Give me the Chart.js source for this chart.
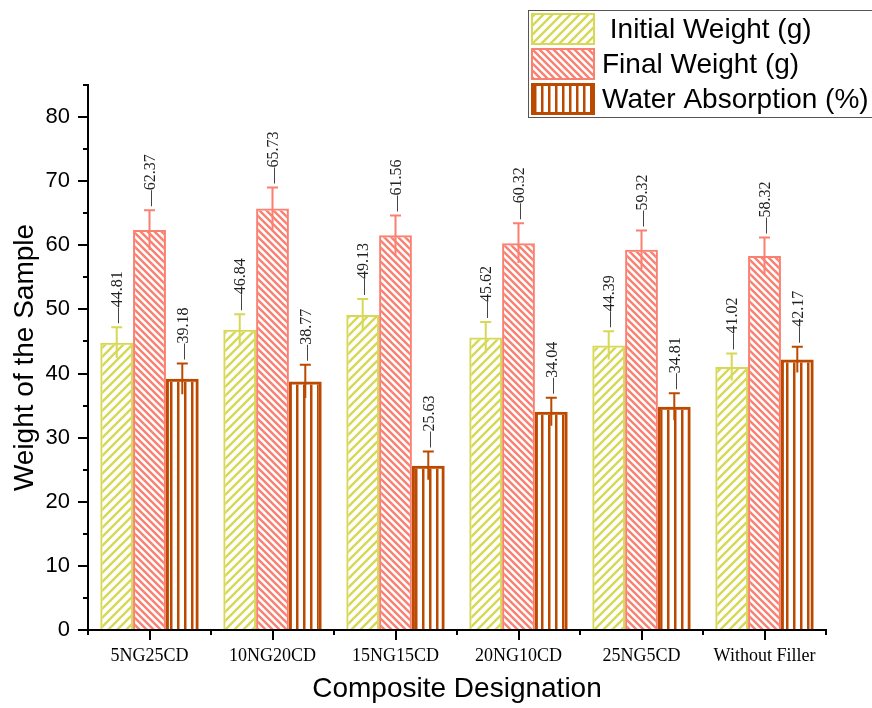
<!DOCTYPE html>
<html>
<head>
<meta charset="utf-8">
<script src="https://cdn.jsdelivr.net/npm/chart.js@4.4.1/dist/chart.umd.min.js"></script>
<style>
  html, body { margin: 0; padding: 0; background: #fff; }
  #wrap { width: 872px; height: 708px; }
</style>
</head>
<body>
<div id="wrap"><canvas id="myChart" width="872" height="708"></canvas></div>
<script>
// data
const categories = ['5NG25CD', '10NG20CD', '15NG15CD', '20NG10CD', '25NG5CD', 'Without Filler'];
const initialWeight = [44.81, 46.84, 49.13, 45.62, 44.39, 41.02];
const finalWeight = [62.37, 65.73, 61.56, 60.32, 59.32, 58.32];
const waterAbsorption = [39.18, 38.77, 25.63, 34.04, 34.81, 42.17];
const initialErr = [2.4, 2.4, 2.5, 2.4, 2.2, 2.1];
const finalErr = [3.1, 3.3, 3.1, 3.1, 3.0, 2.9];
const absorptionErr = [2.4, 2.6, 2.2, 2.2, 2.1, 2.0];
const seriesNames = [' Initial Weight (g)', 'Final Weight (g)', 'Water Absorption (%)'];
const yTicks = [0, 10, 20, 30, 40, 50, 60, 70, 80];

const colYellow = '#d6d856';
const colSalmon = '#fa8072';
const colBrown = '#bb4a00';

// hatch fills
function makePattern(kind, color, size) {
    const c = document.createElement('canvas');
    c.width = size;
    c.height = size;
    const g = c.getContext('2d');
    g.strokeStyle = color;
    g.fillStyle = color;
    g.lineWidth = 2.4;
    if (kind === 'vertical') {
        g.fillRect(2, 0, 2.5, size);
    } else {
        g.beginPath();
        if (kind === 'up') {
            g.moveTo(-1, size + 1); g.lineTo(size + 1, -1);
            g.moveTo(-1, 1); g.lineTo(1, -1);
            g.moveTo(size - 1, size + 1); g.lineTo(size + 1, size - 1);
        } else {
            g.moveTo(-1, -1); g.lineTo(size + 1, size + 1);
            g.moveTo(-1, size - 1); g.lineTo(1, size + 1);
            g.moveTo(size - 1, -1); g.lineTo(size + 1, 1);
        }
        g.stroke();
    }
    return document.getElementById('myChart').getContext('2d').createPattern(c, 'repeat');
}

const patYellow = makePattern('up', colYellow, 9);
const patSalmon = makePattern('down', colSalmon, 7);
const patBrown = makePattern('vertical', colBrown, 7);

const errors = [initialErr, finalErr, absorptionErr];

// error bars + rotated value labels
const errorBarPlugin = {
    id: 'errorBars',
    afterDatasetsDraw(chart) {
        const ctx = chart.ctx;
        const y = chart.scales.y;
        chart.data.datasets.forEach((ds, i) => {
            const meta = chart.getDatasetMeta(i);
            meta.data.forEach((bar, j) => {
                const v = ds.data[j];
                const e = errors[i][j];
                const yTop = y.getPixelForValue(v + e);
                const yBot = y.getPixelForValue(v - e);
                ctx.save();
                ctx.strokeStyle = ds.borderColor;
                ctx.lineWidth = 2;
                ctx.beginPath();
                ctx.moveTo(bar.x, yTop); ctx.lineTo(bar.x, yBot);
                ctx.moveTo(bar.x - 5.5, yTop); ctx.lineTo(bar.x + 5.5, yTop);
                ctx.stroke();
                ctx.translate(bar.x, yTop - 4);
                ctx.rotate(-Math.PI / 2);
                ctx.fillStyle = '#222';
                ctx.font = '16px "Liberation Serif"';
                ctx.textAlign = 'left';
                ctx.textBaseline = 'middle';
                ctx.fillText('\u2014' + v.toFixed(2), 0, 1);
                ctx.restore();
            });
        });
    }
};

// minor ticks + legend box
const extrasPlugin = {
    id: 'extras',
    afterDraw(chart) {
        const ctx = chart.ctx;
        const x = chart.scales.x;
        const y = chart.scales.y;
        ctx.save();
        ctx.strokeStyle = '#000';
        ctx.lineWidth = 2;
        ctx.beginPath();
        for (let v = 5; v <= 85; v += 10) {
            const py = Math.round(y.getPixelForValue(v));
            ctx.moveTo(y.right, py); ctx.lineTo(y.right - 5, py);
        }
        const step = x.width / categories.length;
        for (let k = 0; k <= categories.length; k++) {
            const px = Math.round(x.left + k * step);
            ctx.moveTo(px, x.top); ctx.lineTo(px, x.top + 5);
        }
        ctx.stroke();

        // legend
        ctx.fillStyle = '#fff';
        ctx.fillRect(528.5, 10.5, 350, 107);
        ctx.strokeStyle = '#555';
        ctx.lineWidth = 1;
        ctx.strokeRect(528.5, 10.5, 350, 107);
        const rows = [13, 48, 83];
        chart.data.datasets.forEach((ds, i) => {
            const top = rows[i];
            ctx.fillStyle = ds.backgroundColor;
            ctx.fillRect(531, top, 64, 32);
            ctx.strokeStyle = ds.borderColor;
            ctx.lineWidth = ds.borderWidth;
            ctx.strokeRect(531 + ds.borderWidth / 2, top + ds.borderWidth / 2, 64 - ds.borderWidth, 32 - ds.borderWidth);
            ctx.fillStyle = '#000';
            ctx.font = '28px "Liberation Sans"';
            ctx.textBaseline = 'middle';
            ctx.textAlign = 'left';
            ctx.fillText(ds.label, 602, top + 17);
        });
        ctx.restore();
    }
};

new Chart(document.getElementById('myChart'), {
    type: 'bar',
    data: {
        labels: categories,
        datasets: [
            { label: seriesNames[0], data: initialWeight, backgroundColor: patYellow, borderColor: colYellow, borderWidth: 2 },
            { label: seriesNames[1], data: finalWeight, backgroundColor: patSalmon, borderColor: colSalmon, borderWidth: 2 },
            { label: seriesNames[2], data: waterAbsorption, backgroundColor: patBrown, borderColor: colBrown, borderWidth: 3 }
        ]
    },
    options: {
        responsive: false,
        animation: false,
        devicePixelRatio: 1,
        categoryPercentage: 0.8,
        barPercentage: 1,
        layout: { padding: { top: 85, right: 46, left: 0, bottom: 0 } },
        plugins: {
            legend: { display: false },
            tooltip: { enabled: false }
        },
        scales: {
            x: {
                grid: { display: true, drawOnChartArea: false, offset: false, tickLength: 10, color: '#000', lineWidth: 2 },
                border: { display: true, color: '#000', width: 2 },
                ticks: { color: '#000', font: { family: 'Liberation Serif', size: 18 }, padding: 5, maxRotation: 0, autoSkip: false },
                title: { display: true, text: 'Composite Designation', color: '#000', font: { family: 'Liberation Sans', size: 28 }, padding: { top: 4, bottom: 2 } },
                afterFit: (s) => { s.height = 78; }
            },
            y: {
                min: 0,
                max: 85,
                afterBuildTicks: (s) => { s.ticks = yTicks.map(v => ({ value: v })); },
                grid: { display: true, drawOnChartArea: false, tickLength: 10, color: '#000', lineWidth: 2 },
                border: { display: true, color: '#000', width: 2 },
                ticks: { color: '#000', font: { family: 'Liberation Sans', size: 22 }, padding: 8 },
                title: { display: true, text: 'Weight of the Sample', color: '#000', font: { family: 'Liberation Sans', size: 28 }, padding: { top: 8, bottom: 4 } },
                afterFit: (s) => { s.width = 88; }
            }
        }
    },
    plugins: [errorBarPlugin, extrasPlugin]
});
</script>
</body>
</html>
